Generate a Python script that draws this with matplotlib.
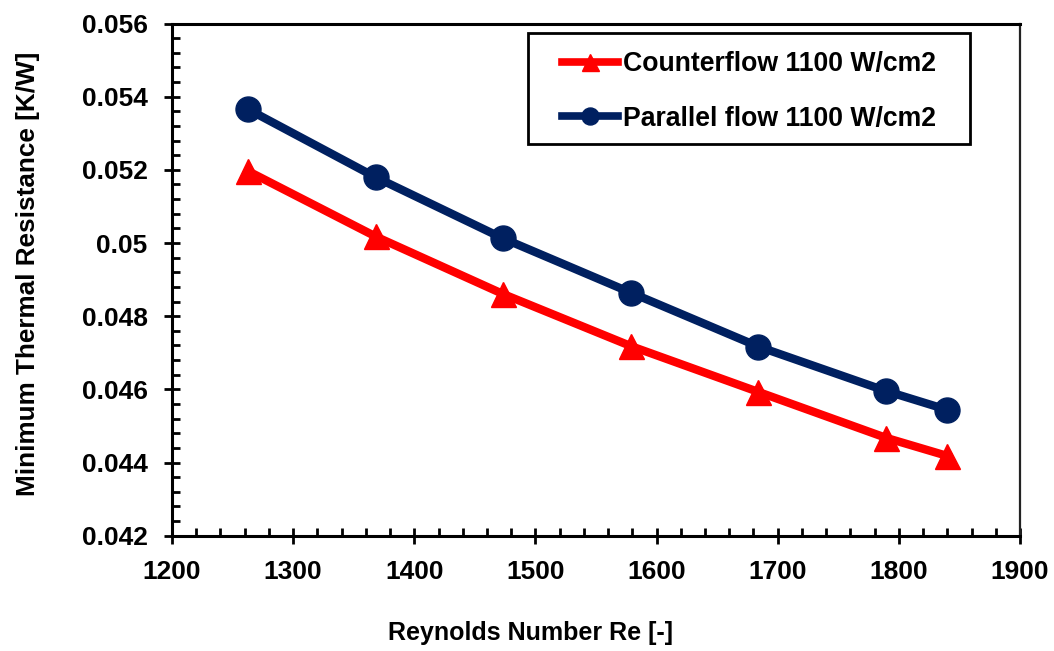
import matplotlib
matplotlib.use("Agg")
import matplotlib.pyplot as plt
from matplotlib.patches import Rectangle
from matplotlib.ticker import MultipleLocator, FixedLocator

# Reynolds numbers and minimum thermal resistance for both flow arrangements
reynolds = [1262.5, 1368, 1473, 1579, 1684, 1789, 1840]
counterflow_r = [0.05197, 0.05018, 0.04861, 0.04718, 0.04593, 0.04468, 0.04418]
parallel_r = [0.05366, 0.05180, 0.05013, 0.04864, 0.04717, 0.04596, 0.04544]

series_labels = ["Counterflow 1100 W/cm2", "Parallel flow 1100 W/cm2"]

x_ticks = [1200, 1300, 1400, 1500, 1600, 1700, 1800, 1900]
x_tick_labels = ["1200", "1300", "1400", "1500", "1600", "1700", "1800", "1900"]
y_ticks = [0.042, 0.044, 0.046, 0.048, 0.050, 0.052, 0.054, 0.056]
y_tick_labels = ["0.042", "0.044", "0.046", "0.048", "0.05", "0.052", "0.054", "0.056"]

plt.rcParams["font.family"] = ["Liberation Sans", "DejaVu Sans"]
plt.rcParams["font.weight"] = "bold"

W, H = 1054, 651
fig = plt.figure(figsize=(W / 100, H / 100), dpi=100)
ax = fig.add_axes([172 / W, 1 - 535.7 / H, 848 / W, 512.2 / H])

red = "#FF0000"
navy = "#002060"

ax.plot(reynolds, counterflow_r, color=red, lw=6, marker="^", ms=18,
        label=series_labels[0], zorder=3)
ax.plot(reynolds, parallel_r, color=navy, lw=6, marker="o", ms=18,
        label=series_labels[1], zorder=3)

ax.set_xlim(1200, 1900)
ax.set_ylim(0.042, 0.056)

ax.xaxis.set_major_locator(FixedLocator(x_ticks))
ax.set_xticklabels(x_tick_labels)
ax.yaxis.set_major_locator(FixedLocator(y_ticks))
ax.set_yticklabels(y_tick_labels)
ax.xaxis.set_minor_locator(MultipleLocator(20))
ax.yaxis.set_minor_locator(MultipleLocator(0.0004))

ax.tick_params(which="major", direction="inout", length=11, width=2,
               labelsize=19, pad=12, color="black")
ax.tick_params(which="minor", direction="in", length=6, width=2, color="black")
ax.tick_params(top=False, right=False, which="both")
for lbl in ax.get_xticklabels() + ax.get_yticklabels():
    lbl.set_fontweight("bold")

for side in ["left", "bottom", "top"]:
    ax.spines[side].set_linewidth(2.2)
    ax.spines[side].set_color("black")
ax.spines["right"].set_linewidth(1.6)
ax.spines["right"].set_color("#222222")

# axis titles, positioned by their centres
ax.set_xlabel("Reynolds Number Re [-]", fontsize=18, fontweight="bold", va="center")
ax.xaxis.set_label_coords((531 - 172) / 848, -(633 - 535.7) / 512.2)
ax.set_ylabel("Minimum Thermal Resistance [K/W]", fontsize=18.8, fontweight="bold",
              va="center")
ax.yaxis.set_label_coords((28 - 172) / 848, 1 - (273.5 - 23.5) / 512.2)

# legend box with the entries centred inside it
bx0, bx1 = (528 - 172) / 848, (970 - 172) / 848
by1, by0 = 1 - (33 - 23.5) / 512.2, 1 - (144 - 23.5) / 512.2
ax.add_patch(Rectangle((bx0, by0), bx1 - bx0, by1 - by0, transform=ax.transAxes,
                       facecolor="white", edgecolor="black", lw=2, zorder=4))
leg = ax.legend(loc="center",
                bbox_to_anchor=((bx0 + bx1) / 2, (by0 + by1) / 2 - 3 / 512.2),
                frameon=False, markerscale=0.68, handlelength=2.1,
                handletextpad=0.18, labelspacing=1.07, borderpad=0.0,
                prop={"weight": "bold", "size": 19.2})
leg.set_zorder(5)
for h in leg.legend_handles:
    h.set_linewidth(5.5)

fig.savefig("out.png", dpi=100)
